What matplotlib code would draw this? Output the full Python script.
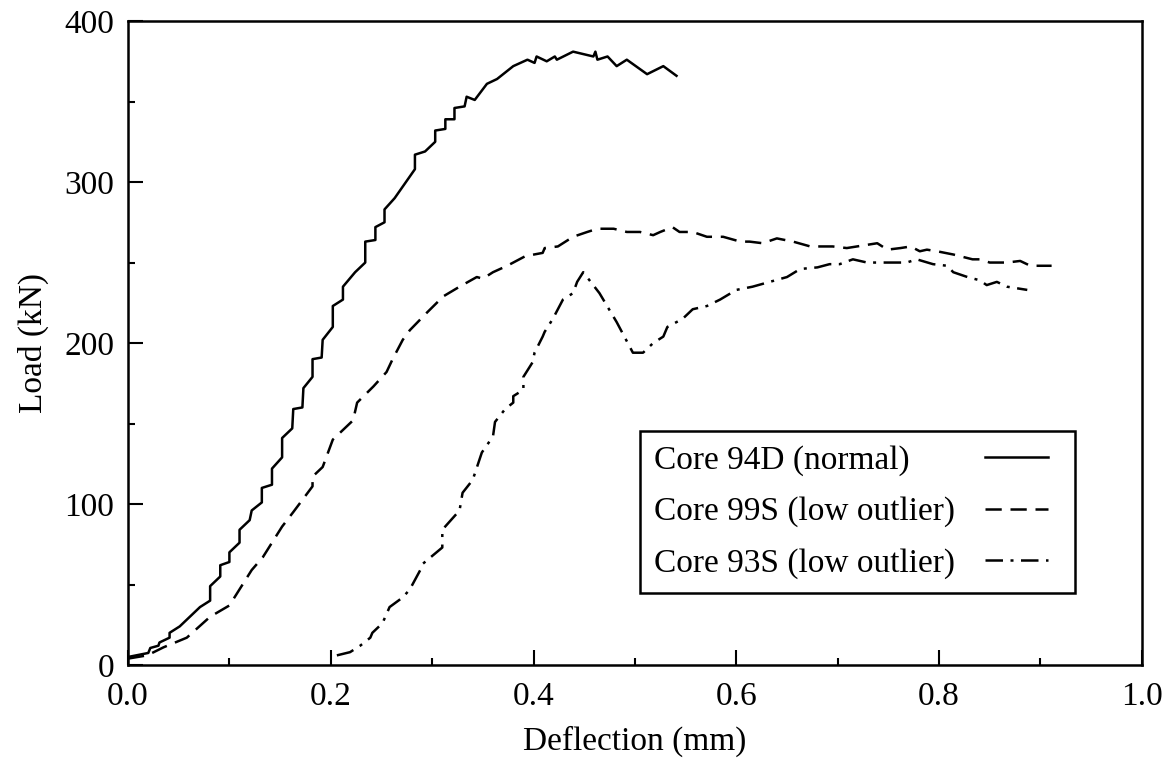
import matplotlib
matplotlib.use("Agg")
import matplotlib.pyplot as plt
from matplotlib.ticker import MultipleLocator

plt.rcParams["font.family"] = ["Liberation Serif", "DejaVu Serif"]

# Core 94D (normal)
x_94d = [0.0, 0.02, 0.022, 0.03, 0.031, 0.041, 0.041, 0.051, 0.071, 0.081, 0.081,
         0.091, 0.091, 0.10, 0.10, 0.11, 0.11, 0.12, 0.122, 0.132, 0.132, 0.142,
         0.142, 0.152, 0.152, 0.162, 0.163, 0.172, 0.173, 0.182, 0.182, 0.191,
         0.192, 0.202, 0.202, 0.212, 0.212, 0.224, 0.234, 0.234, 0.244, 0.244,
         0.253, 0.253, 0.263, 0.283, 0.283, 0.293, 0.303, 0.303, 0.313, 0.313,
         0.322, 0.322, 0.332, 0.334, 0.342, 0.354, 0.364, 0.380, 0.394, 0.401,
         0.403, 0.413, 0.421, 0.423, 0.439, 0.459, 0.461, 0.463, 0.473, 0.482,
         0.492, 0.512, 0.528, 0.541]
y_94d = [5, 7.5, 10.6, 12, 14, 17, 20, 24, 36, 40, 49,
         55, 62, 64, 70, 76, 84, 90, 96, 101, 110, 112,
         122, 129, 141, 147, 159, 160, 172, 179, 190, 191,
         202, 210, 223, 227, 235, 244, 250, 263, 264, 272,
         275, 283, 290, 308, 317, 319, 325, 332, 333, 339,
         339, 346, 347, 353, 351, 361, 364, 372, 376, 374,
         378, 375, 378, 376, 381, 378, 381, 376, 378, 372,
         376, 367, 372, 366]

# Core 99S (low outlier)
x_99s = [0.0, 0.019, 0.035, 0.058, 0.081, 0.10, 0.11, 0.122, 0.133, 0.15, 0.152,
         0.163, 0.182, 0.182, 0.192, 0.202, 0.212, 0.222, 0.226, 0.242, 0.255,
         0.261, 0.271, 0.278, 0.295, 0.311, 0.327, 0.344, 0.350, 0.360, 0.374,
         0.392, 0.409, 0.411, 0.424, 0.439, 0.453, 0.463, 0.479, 0.492, 0.505,
         0.518, 0.525, 0.537, 0.544, 0.557, 0.571, 0.587, 0.604, 0.613, 0.626,
         0.640, 0.656, 0.673, 0.695, 0.709, 0.719, 0.729, 0.739, 0.749, 0.762,
         0.772, 0.781, 0.788, 0.798, 0.814, 0.833, 0.840, 0.850, 0.867, 0.880,
         0.890, 0.899, 0.911]
y_99s = [4, 6, 11, 17, 30, 37, 47, 59, 67, 84, 86,
         95, 111, 117, 123, 140, 146, 152, 163, 173, 182,
         190, 202, 208, 219, 229, 235, 241, 240, 244, 248,
         254, 256, 259, 260, 266, 269, 271, 271, 269, 269,
         267, 269, 272, 269, 269, 266, 266, 263, 263, 262,
         265, 263, 260, 260, 259, 260, 261, 262, 258, 259,
         260, 257, 258, 257, 255, 252, 252, 250, 250, 251,
         248, 248, 248]

# Core 93S (low outlier)
x_93s = [0.206, 0.219, 0.229, 0.239, 0.241, 0.251, 0.258, 0.271, 0.278, 0.290,
         0.291, 0.310, 0.310, 0.327, 0.330, 0.340, 0.349, 0.360, 0.362, 0.372,
         0.380, 0.380, 0.390, 0.390, 0.399, 0.401, 0.409, 0.411, 0.419, 0.429,
         0.439, 0.443, 0.449, 0.465, 0.482, 0.498, 0.508, 0.518, 0.528, 0.532,
         0.547, 0.557, 0.571, 0.584, 0.600, 0.616, 0.633, 0.650, 0.663, 0.680,
         0.692, 0.702, 0.715, 0.729, 0.739, 0.755, 0.768, 0.778, 0.794, 0.808,
         0.814, 0.828, 0.840, 0.847, 0.857, 0.867, 0.877, 0.887]
y_93s = [6, 8, 12, 17, 20, 26, 36, 42, 47, 61,
         63, 73, 84, 96, 107, 115, 132, 142, 151, 159,
         163, 167, 171, 179, 188, 194, 204, 207, 215, 227,
         231, 238, 244, 231, 213, 194, 194, 200, 204, 210,
         215, 221, 223, 227, 233, 235, 238, 241, 246, 247,
         249, 249, 252, 250, 250, 250, 250, 252, 249, 248,
         244, 241, 239, 236, 238, 235, 234, 233]

labels = ["Core 94D (normal)", "Core 99S (low outlier)", "Core 93S (low outlier)"]

fig = plt.figure(figsize=(11.68, 7.63), dpi=100)
ax = fig.add_axes([0.1096, 0.1284, 0.868, 0.844])

ax.plot(x_94d, y_94d, color="black", lw=1.8, linestyle="-", label=labels[0])
ax.plot(x_99s, y_99s, color="black", lw=1.8, linestyle=(0, (6.5, 3.5)), label=labels[1])
ax.plot(x_93s, y_93s, color="black", lw=1.8, linestyle=(0, (7, 3, 1.2, 3)), label=labels[2])

ax.set_xlim(0, 1.0)
ax.set_ylim(0, 400)
ax.xaxis.set_major_locator(MultipleLocator(0.2))
ax.xaxis.set_minor_locator(MultipleLocator(0.1))
ax.yaxis.set_major_locator(MultipleLocator(100))
ax.yaxis.set_minor_locator(MultipleLocator(50))
ax.set_xticklabels([f"{v:.1f}" for v in ax.get_xticks()])
ax.tick_params(which="both", direction="in", top=False, right=False,
               width=1.5, labelsize=24)
ax.tick_params(axis="x", pad=12)
ax.tick_params(axis="y", pad=10)
ax.tick_params(which="major", length=11)
ax.tick_params(which="minor", length=5)
for s in ax.spines.values():
    s.set_linewidth(1.8)

ax.set_xlabel("Deflection (mm)", fontsize=24, labelpad=10)
ax.set_ylabel("Load (kN)", fontsize=24, labelpad=11)

leg = ax.legend(loc="lower left", bbox_to_anchor=(0.505, 0.112, 0.429, 0.258),
                mode="expand", markerfirst=False, fontsize=24, handlelength=1.9,
                labelspacing=0.62, borderpad=0.42, borderaxespad=0,
                handletextpad=0.8, fancybox=False, framealpha=1, edgecolor="black")
leg.get_frame().set_linewidth(1.8)

# left-align the texts, push handles to the right edge (text left, line right)
for column in leg._legend_handle_box.get_children():
    for item in column.get_children():
        item.mode = "expand"
        item.width = 394

plt.savefig("out.png", dpi=100)
